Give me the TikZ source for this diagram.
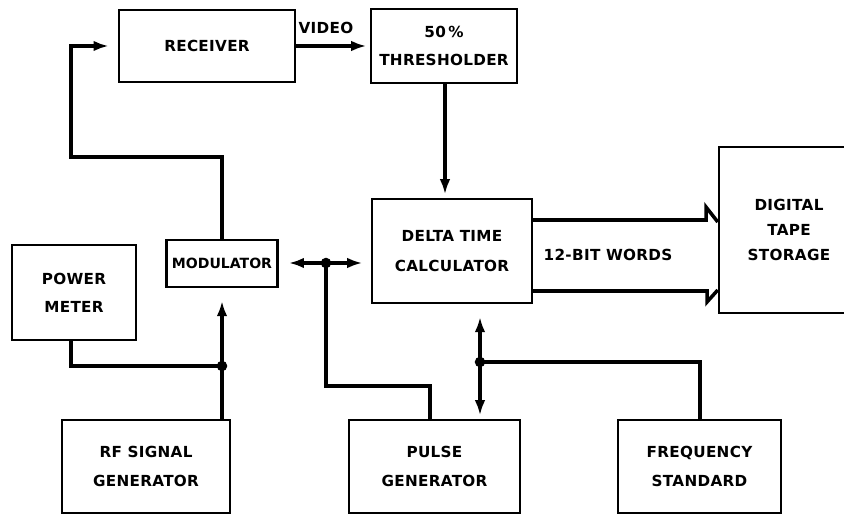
\documentclass[tikz,border=0pt]{standalone}
\usepackage{fontspec}
\newfontfamily\lblfont{DejaVu Sans}[LetterSpace=2]
\newfontfamily\lblnarrow{DejaVu Sans}
\usetikzlibrary{arrows.meta}

\tikzset{
  blk/.style={draw, line width=2.1pt, inner sep=0pt, align=center,
              font=\lblfont\bfseries\fontsize{13}{24}\selectfont},
  conn/.style={line width=3pt, line join=miter},
  feed/.style={conn, -{Latex[length=13pt,width=9pt]}, shorten >=0.1cm},
  lbl/.style={font=\lblfont\bfseries\fontsize{13}{14}\selectfont, inner sep=0pt}
}

\begin{document}
\begin{tikzpicture}[x=0.03cm, y=-0.03cm]
        \useasboundingbox (0,0) rectangle (844,516);
        % blocks
        \node[blk, minimum width=5.28cm, minimum height=2.16cm] (rec) at (207,46) {RECEIVER};
        \node[blk, minimum width=4.38cm, minimum height=2.22cm] (thr) at (444,46) {50\,\%\\THRESHOLDER};
        \node[blk, minimum width=3.33cm, minimum height=1.41cm, font=\lblnarrow\bfseries\fontsize{12}{14}\selectfont] (mod) at (222,263.5) {MODULATOR};
        \node[blk, minimum width=3.72cm, minimum height=2.85cm] (pm) at (74,292.5) {POWER\\METER};
        \node[blk, minimum width=4.8cm, minimum height=3.12cm, font=\lblfont\bfseries\fontsize{13}{26}\selectfont] (dtc) at (452,251) {DELTA TIME\\CALCULATOR};
        \node[blk, minimum width=4.2cm, minimum height=4.98cm, font=\lblfont\bfseries\fontsize{13}{21.5}\selectfont] (tape) at (789,230) {DIGITAL\\TAPE\\STORAGE};
        \node[blk, minimum width=5.04cm, minimum height=2.79cm] (rf) at (146,466.5) {RF SIGNAL\\GENERATOR};
        \node[blk, minimum width=5.13cm, minimum height=2.79cm] (pg) at (434.5,466.5) {PULSE\\GENERATOR};
        \node[blk, minimum width=4.89cm, minimum height=2.79cm] (fs) at (699.5,466.5) {FREQUENCY\\STANDARD};
        % bends and junctions
        \coordinate (bendA) at (71,157);
        \coordinate (bendB) at (430,386);
        \coordinate (jA) at (326,263);
        \coordinate (jB) at (480,362);
        \coordinate (jC) at (222,366);
        % modulator to receiver to thresholder
        \draw[feed, shorten >=0.27cm] (mod.north) |- (bendA) |- (rec.west);
        \draw[feed] (rec.east) -- (thr.west);
        \node[lbl] (video) at (326,28) {VIDEO};
        \draw[feed] (thr.south -| 445,0) -- (dtc.north -| 445,0);
        % modulator <-> delta time calculator
        \draw[conn, {Latex[length=13pt,width=9pt]}-{Latex[length=13pt,width=9pt]}, shorten <=0.3cm, shorten >=0.25cm]
            (mod.east |- jA) -- (dtc.west |- jA);
        \draw[conn] (jA) |- (bendB) -- (bendB |- pg.north);
        \fill (jA) circle (4.5pt);
        % rf generator and power meter
        \draw[conn] (jC |- rf.north) -- (jC);
        \draw[feed, shorten >=0.38cm] (jC) -- (jC |- mod.south);
        \draw[conn] (pm.south -| 71,0) |- (jC);
        \fill (jC) circle (4.5pt);
        % pulse generator, frequency standard
        \draw[feed, shorten >=0.38cm] (jB) -- (jB |- dtc.south);
        \draw[feed] (jB) -- (jB |- pg.north);
        \draw[conn] (jB) -| (fs.north -| 700,0);
        \fill (jB) circle (4.5pt);
        % 12-bit words bus
        \draw[conn] (dtc.east |- 0,220) -- (706,220) -- (706,207) -- (tape.west |- 0,222);
        \draw[conn] (dtc.east |- 0,291) -- (707,291) -- (707,302) -- (tape.west |- 0,290);
        \node[lbl] (words) at (608,255) {12-BIT WORDS};
    \end{tikzpicture}
\end{document}
